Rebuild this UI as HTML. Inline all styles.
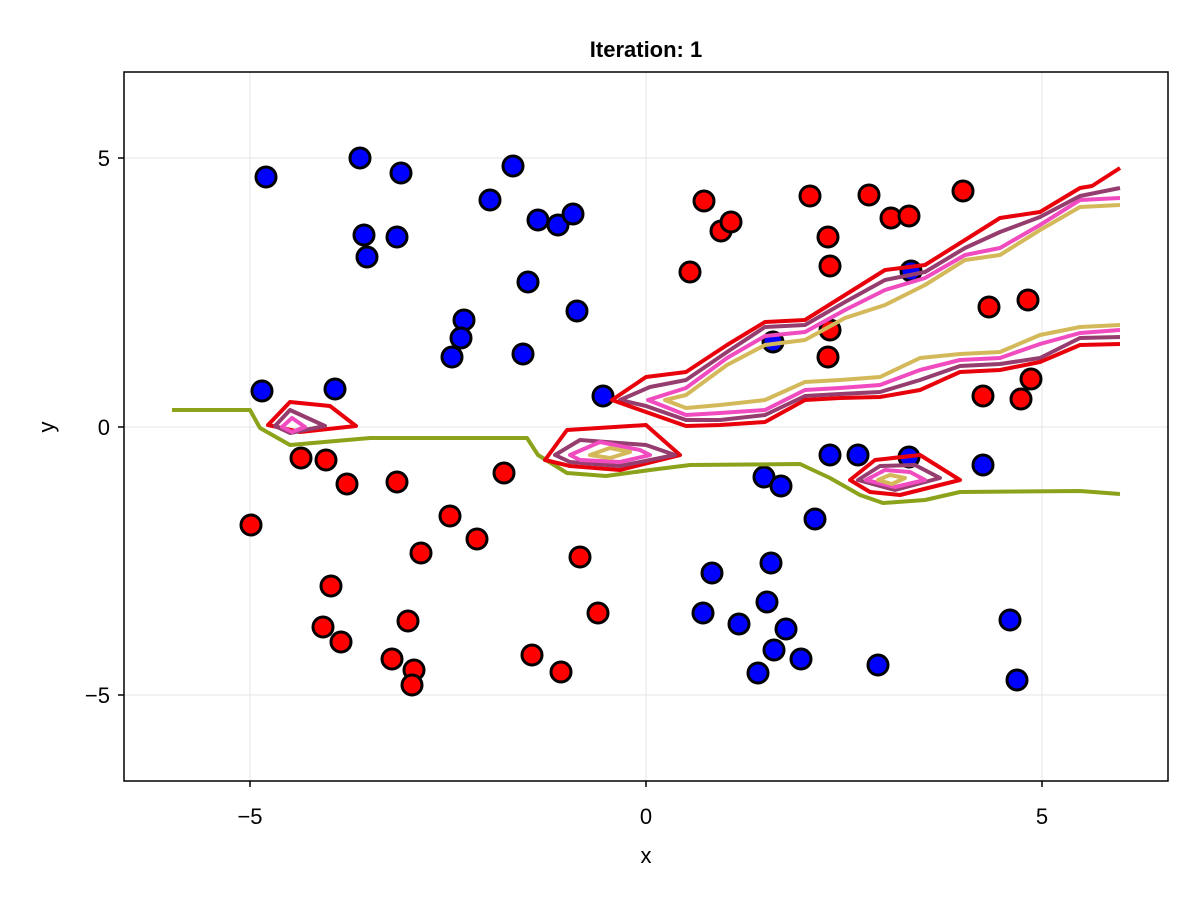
<!DOCTYPE html>
<html><head><style>body{margin:0;background:#fff}svg{display:block}</style></head><body>
<svg width="1200" height="900" xmlns="http://www.w3.org/2000/svg" font-family="Liberation Sans, sans-serif">
<rect width="1200" height="900" fill="#fff"/>
<g stroke="#e6e6e6" stroke-width="1">
<line x1="250" y1="72" x2="250" y2="781"/><line x1="646" y1="72" x2="646" y2="781"/><line x1="1042" y1="72" x2="1042" y2="781"/>
<line x1="124" y1="158" x2="1168" y2="158"/><line x1="124" y1="427" x2="1168" y2="427"/><line x1="124" y1="695" x2="1168" y2="695"/>
</g>
<g stroke="#000" stroke-width="3" fill="#00f">
<circle cx="266" cy="177" r="10"/><circle cx="360" cy="158" r="10"/><circle cx="401" cy="173" r="10"/><circle cx="364" cy="235" r="10"/><circle cx="367" cy="257" r="10"/><circle cx="397" cy="237" r="10"/><circle cx="490" cy="200" r="10"/><circle cx="513" cy="166" r="10"/><circle cx="538" cy="220" r="10"/><circle cx="558" cy="225" r="10"/><circle cx="573" cy="214" r="10"/><circle cx="528" cy="282" r="10"/><circle cx="577" cy="311" r="10"/><circle cx="464" cy="320" r="10"/><circle cx="461" cy="338" r="10"/><circle cx="452" cy="357" r="10"/><circle cx="523" cy="354" r="10"/><circle cx="262" cy="391" r="10"/><circle cx="335" cy="389" r="10"/><circle cx="603" cy="396" r="10"/><circle cx="773" cy="342" r="10"/><circle cx="911" cy="271" r="10"/><circle cx="830" cy="455" r="10"/><circle cx="858" cy="455" r="10"/><circle cx="909" cy="457" r="10"/><circle cx="983" cy="465" r="10"/><circle cx="764" cy="477" r="10"/><circle cx="781" cy="486" r="10"/><circle cx="815" cy="519" r="10"/><circle cx="712" cy="573" r="10"/><circle cx="771" cy="563" r="10"/><circle cx="767" cy="602" r="10"/><circle cx="703" cy="613" r="10"/><circle cx="739" cy="624" r="10"/><circle cx="786" cy="629" r="10"/><circle cx="774" cy="650" r="10"/><circle cx="801" cy="659" r="10"/><circle cx="758" cy="673" r="10"/><circle cx="878" cy="665" r="10"/><circle cx="1010" cy="620" r="10"/><circle cx="1017" cy="680" r="10"/>
</g>
<g stroke="#000" stroke-width="3" fill="#f00">
<circle cx="704" cy="201" r="10"/><circle cx="721" cy="231" r="10"/><circle cx="731" cy="222" r="10"/><circle cx="690" cy="272" r="10"/><circle cx="810" cy="196" r="10"/><circle cx="869" cy="195" r="10"/><circle cx="891" cy="218" r="10"/><circle cx="909" cy="216" r="10"/><circle cx="963" cy="191" r="10"/><circle cx="828" cy="237" r="10"/><circle cx="830" cy="266" r="10"/><circle cx="830" cy="330" r="10"/><circle cx="828" cy="357" r="10"/><circle cx="989" cy="307" r="10"/><circle cx="1028" cy="300" r="10"/><circle cx="983" cy="396" r="10"/><circle cx="1031" cy="379" r="10"/><circle cx="1021" cy="399" r="10"/><circle cx="301" cy="458" r="10"/><circle cx="326" cy="460" r="10"/><circle cx="347" cy="484" r="10"/><circle cx="397" cy="482" r="10"/><circle cx="504" cy="473" r="10"/><circle cx="251" cy="525" r="10"/><circle cx="450" cy="516" r="10"/><circle cx="477" cy="539" r="10"/><circle cx="421" cy="553" r="10"/><circle cx="580" cy="557" r="10"/><circle cx="331" cy="586" r="10"/><circle cx="323" cy="627" r="10"/><circle cx="341" cy="642" r="10"/><circle cx="408" cy="621" r="10"/><circle cx="598" cy="613" r="10"/><circle cx="392" cy="659" r="10"/><circle cx="414" cy="670" r="10"/><circle cx="412" cy="685" r="10"/><circle cx="532" cy="655" r="10"/><circle cx="561" cy="672" r="10"/>
</g>
<g fill="none" stroke-width="4" stroke-linejoin="round">
<polyline stroke="#8aa31b" points="172,410 250,410 260,428 290,445 370,438 527,438 538,455 567,473 606,476 650,470 690,465 800,464 830,478 860,495 883,503 925,500 960,492 1080,491 1120,494"/>
<polyline stroke="#d4b95a" points="1120,205 1080,207 1040,230 1000,255 965,260 925,285 885,305 845,318 805,340 765,345 727,365 686,395 665,400 686,408 720,405 765,400 805,382 840,380 880,377 920,358 960,354 1000,352 1040,335 1080,327 1120,325"/>
<polyline stroke="#f04bbf" points="1120,198 1080,200 1040,225 1000,248 965,255 925,278 885,290 845,310 805,332 765,336 727,358 686,388 648,400 686,415 720,413 765,410 805,390 840,388 880,385 920,370 960,360 1000,358 1040,344 1080,333 1120,330"/>
<polyline stroke="#963d70" points="1120,188 1080,196 1040,217 1000,232 965,248 925,272 885,280 845,302 805,325 765,327 727,352 686,380 650,387 620,400 646,406 686,420 720,420 765,415 805,396 840,394 880,392 920,380 960,366 1000,364 1040,358 1080,338 1120,337"/>
<polyline stroke="#e8000b" points="1120,168 1092,186 1080,188 1040,212 1000,218 965,240 925,265 885,270 845,295 805,320 765,322 727,345 686,372 646,377 612,400 646,412 686,426 720,425 765,422 805,400 840,398 880,397 920,390 960,372 1000,370 1040,362 1080,345 1120,344"/>
<polygon stroke="#e8000b" points="268,425 290,402 330,406 356,426 300,432"/>
<polygon stroke="#963d70" points="275,426 290,410 325,426 290,433"/>
<polygon stroke="#f04bbf" points="282,427 292,418 305,427 292,432"/>
<polygon stroke="#e8000b" points="545,460 567,430 646,425 680,455 620,470 570,466"/>
<polygon stroke="#963d70" points="555,455 580,440 646,445 675,455 620,466 570,462"/>
<polygon stroke="#f04bbf" points="570,455 600,442 640,450 650,455 620,462 580,460"/>
<polygon stroke="#d4b95a" points="590,455 610,448 630,452 610,458"/>
<polygon stroke="#e8000b" points="850,480 875,460 920,455 960,480 900,495 870,492"/>
<polygon stroke="#963d70" points="858,480 880,466 915,465 940,478 895,490"/>
<polygon stroke="#f04bbf" points="866,480 885,470 910,472 925,480 895,487"/>
<polygon stroke="#d4b95a" points="878,480 890,475 905,478 892,484"/>
</g>
<rect x="124" y="72" width="1044" height="709" fill="none" stroke="#000" stroke-width="1.5"/>
<g stroke="#000" stroke-width="1.5">
<line x1="250" y1="781" x2="250" y2="787"/><line x1="646" y1="781" x2="646" y2="787"/><line x1="1042" y1="781" x2="1042" y2="787"/>
<line x1="118" y1="158" x2="124" y2="158"/><line x1="118" y1="427" x2="124" y2="427"/><line x1="118" y1="695" x2="124" y2="695"/>
</g>
<g font-size="22" fill="#000">
<text x="250" y="824" text-anchor="middle">−5</text><text x="646" y="824" text-anchor="middle">0</text><text x="1042" y="824" text-anchor="middle">5</text>
<text x="110" y="166" text-anchor="end">5</text><text x="110" y="435" text-anchor="end">0</text><text x="110" y="703" text-anchor="end">−5</text>
<text x="646" y="863" text-anchor="middle">x</text>
<text x="0" y="0" text-anchor="middle" transform="translate(54,427) rotate(-90)">y</text>
<text x="646" y="57" text-anchor="middle" font-weight="bold">Iteration: 1</text>
</g>
</svg>
</body></html>
